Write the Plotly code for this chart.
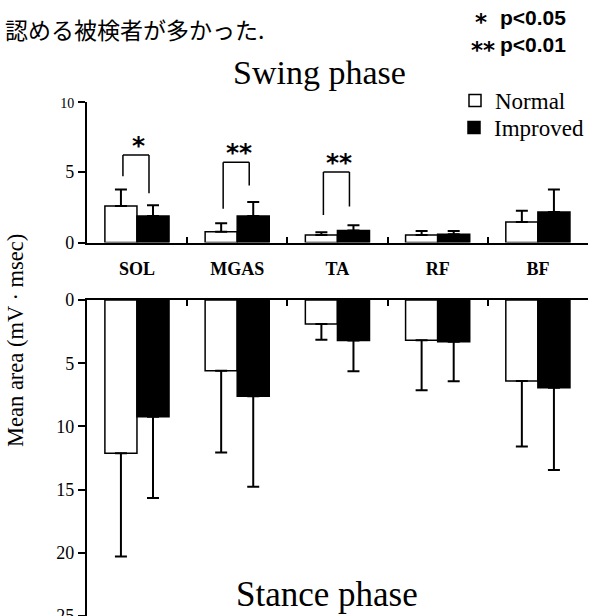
import plotly.graph_objects as go

# ---------------- data ----------------
categories = ["SOL", "MGAS", "TA", "RF", "BF"]

swing_normal = [2.58, 0.77, 0.54, 0.54, 1.46]
swing_normal_sd = [1.18, 0.60, 0.19, 0.28, 0.79]
swing_improved = [1.88, 1.88, 0.85, 0.59, 2.16]
swing_improved_sd = [0.77, 0.99, 0.37, 0.23, 1.60]

stance_normal = [12.13, 5.59, 1.89, 3.18, 6.40]
stance_normal_sd = [8.17, 6.48, 1.26, 3.96, 5.20]
stance_improved = [9.24, 7.61, 3.20, 3.31, 6.95]
stance_improved_sd = [6.43, 7.17, 2.44, 3.12, 6.49]

sig_categories = ["SOL", "MGAS", "TA"]
sig_marks = ["*", "**", "**"]
sig_top = [6.2, 5.7, 5.0]
sig_left_end = [4.7, 2.4, 1.95]
sig_right_end = [3.5, 4.05, 2.55]

swing_ticks = [0, 5, 10]
stance_ticks = [0, 5, 10, 15, 20, 25]

# ---------------- layout helpers ----------------
W, H = 589, 616
SERIF = "Liberation Serif"
SANS = "Liberation Sans"


def px(x):
    return x / W


def py(y):
    return 1 - y / H


x_dom = [px(87), 1.0]
top_dom = [py(242.5), py(101.5)]
bot_dom = [0.0, py(300)]

err_style = dict(type="data", symmetric=False, color="black", thickness=2, width=6)

fig = go.Figure()
fig.add_trace(go.Bar(
    x=categories, y=swing_normal, name="Normal",
    marker=dict(color="white", line=dict(color="black", width=1.5)),
    error_y=dict(array=swing_normal_sd, arrayminus=[0] * len(categories), **err_style),
    xaxis="x", yaxis="y", legendgroup="n", legend="legend"))
fig.add_trace(go.Bar(
    x=categories, y=swing_improved, name="Improved",
    marker=dict(color="black", line=dict(color="black", width=1.5)),
    error_y=dict(array=swing_improved_sd, arrayminus=[0] * len(categories), **err_style),
    xaxis="x", yaxis="y", legendgroup="i", legend="legend2"))
fig.add_trace(go.Bar(
    x=categories, y=stance_normal, name="Normal", showlegend=False,
    marker=dict(color="white", line=dict(color="black", width=1.5)),
    error_y=dict(array=stance_normal_sd, arrayminus=[0] * len(categories), **err_style),
    xaxis="x2", yaxis="y2", legendgroup="n"))
fig.add_trace(go.Bar(
    x=categories, y=stance_improved, name="Improved", showlegend=False,
    marker=dict(color="black", line=dict(color="black", width=1.5)),
    error_y=dict(array=stance_improved_sd, arrayminus=[0] * len(categories), **err_style),
    xaxis="x2", yaxis="y2", legendgroup="i"))

# significance brackets
shapes = []
annotations = []
for cat, mark, top, le, re_ in zip(sig_categories, sig_marks, sig_top, sig_left_end, sig_right_end):
    i = categories.index(cat)
    xl, xr = i - 0.14, i + 0.12
    line = dict(color="black", width=1.5)
    shapes.append(dict(type="line", xref="x", yref="y", x0=xl, x1=xl, y0=le, y1=top, line=line))
    shapes.append(dict(type="line", xref="x", yref="y", x0=xl, x1=xr, y0=top, y1=top, line=line))
    shapes.append(dict(type="line", xref="x", yref="y", x0=xr, x1=xr, y0=top, y1=re_, line=line))
    annotations.append(dict(xref="x", yref="y", x=(xl + xr) / 2 + 0.03, y=top, text=mark,
                            showarrow=False, yanchor="middle", yshift=10,
                            font=dict(family="DejaVu Sans", size=25, color="black", weight="bold")))

annotations += [
    dict(xref="paper", yref="paper", x=px(3), y=py(29), xanchor="left", yanchor="middle",
         text="認める被検者が多かった.", showarrow=False,
         font=dict(family="Noto Sans CJK JP", size=23, color="black")),
    dict(xref="paper", yref="paper", x=px(320), y=py(72), xanchor="center", yanchor="middle",
         text="Swing phase", showarrow=False, font=dict(family=SERIF, size=34, color="black")),
    dict(xref="paper", yref="paper", x=px(328), y=py(594), xanchor="center", yanchor="middle",
         text="Stance phase", showarrow=False, font=dict(family=SERIF, size=35, color="black")),
    dict(xref="paper", yref="paper", x=px(15), y=py(340), xanchor="center", yanchor="middle",
         text="Mean area (mV · msec)", textangle=-90, showarrow=False,
         font=dict(family=SERIF, size=22.5, color="black")),
    dict(xref="paper", yref="paper", x=px(490), y=py(17), xanchor="right", yanchor="middle",
         text="*", showarrow=False, yshift=-5,
         font=dict(family="DejaVu Sans", size=23, color="black", weight="bold")),
    dict(xref="paper", yref="paper", x=px(499), y=py(17), xanchor="left", yanchor="middle",
         text="<b>p<0.05</b>", showarrow=False, font=dict(family=SANS, size=21, color="black")),
    dict(xref="paper", yref="paper", x=px(498), y=py(45), xanchor="right", yanchor="middle",
         text="**", showarrow=False, yshift=-5,
         font=dict(family="DejaVu Sans", size=23, color="black", weight="bold")),
    dict(xref="paper", yref="paper", x=px(499), y=py(45), xanchor="left", yanchor="middle",
         text="<b>p<0.01</b>", showarrow=False, font=dict(family=SANS, size=21, color="black")),
]

axis_common = dict(showline=True, linewidth=2, linecolor="black", showgrid=False,
                   zeroline=False, tickcolor="black", tickwidth=2, automargin=False)

legend_common = dict(xanchor="left", yanchor="top", font=dict(family=SERIF, size=23, color="black"),
                     bgcolor="rgba(0,0,0,0)", tracegroupgap=0)

fig.update_layout(
    width=W, height=H,
    margin=dict(l=0, r=0, t=0, b=0, pad=0),
    paper_bgcolor="white", plot_bgcolor="white",
    barmode="group", bargap=0.36, bargroupgap=0,
    font=dict(family=SERIF, color="black"),
    xaxis=dict(domain=x_dom, anchor="y", type="category", ticks="inside", tickson="boundaries",
               ticklen=6, ticklabelstandoff=9,
               tickfont=dict(family=SERIF, size=18, color="black", weight="bold"),
               **axis_common),
    yaxis=dict(domain=top_dom, anchor="x", range=[0, 10], tickvals=swing_ticks,
               ticktext=[str(v) if v != 10 else '<span style="font-size:14px">10</span>' for v in swing_ticks],
               ticks="outside", ticklen=7, tickfont=dict(family=SERIF, size=18, color="black"),
               **axis_common),
    xaxis2=dict(domain=x_dom, anchor="y2", type="category", side="top", ticks="inside",
                tickson="boundaries", ticklen=6, showticklabels=False, **axis_common),
    yaxis2=dict(domain=bot_dom, anchor="x2", range=[25, 0], tickvals=stance_ticks,
                ticks="outside", ticklen=7, ticklabeloverflow="allow",
                tickfont=dict(family=SERIF, size=18, color="black"),
                **axis_common),
    legend=dict(x=px(455), y=py(79), **legend_common),
    legend2=dict(x=px(455), y=py(106), **legend_common),
    shapes=shapes,
    annotations=annotations,
)

fig.write_html("out.html", config={"displayModeBar": False},
               post_script="document.body.style.margin='0';")
